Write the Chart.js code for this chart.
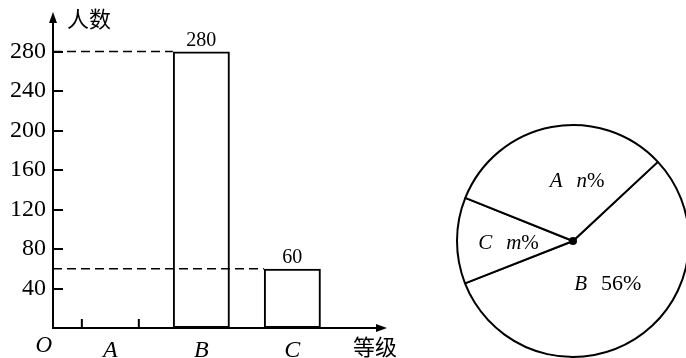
<!DOCTYPE html>
<html>
<head>
<meta charset="utf-8">
<script src="https://cdn.jsdelivr.net/npm/chart.js@4.4.1/dist/chart.umd.min.js"></script>
<style>
  html, body { margin: 0; padding: 0; background: #fff; overflow: hidden; width: 686px; height: 358px; }
  #bar { position: absolute; left: 0; top: 0; }
  #pie { position: absolute; left: 455px; top: 123px; }
</style>
</head>
<body>
<canvas id="bar" width="420" height="358"></canvas>
<canvas id="pie" width="236" height="236"></canvas>
<script>
// Bar chart data
const categories = ['A', 'B', 'C'];
const counts = [null, 280, 60];   // A is not drawn in the figure
const yTicks = [40, 80, 120, 160, 200, 240, 280];
const yTitle = '人数';
const xTitle = '等级';
const originLabel = 'O';

// Pie chart data (clockwise from the upper-right radius)
const pieLabels = ['B', 'C', 'A'];
const pieShares = [56, 12, 32];
const pieTexts = ['56%', 'm%', 'n%'];

const SERIF = '"Liberation Serif", "DejaVu Serif", serif';
const CJK = '"Noto Sans CJK SC", sans-serif';

// small nudges for pie text (radius fraction, angle shift in degrees)
const pieNudge = [{ dr: 0.52, da: -3 }, { dr: 0.56, da: -7 }, { dr: 0.47, da: 15 }];

function drawParts(ctx, parts, cx, by) {
  let total = 0;
  parts.forEach(p => { ctx.font = p.font; p.w = ctx.measureText(p.t).width + (p.gap || 0); total += p.w; });
  let x = cx - total / 2;
  ctx.textAlign = 'left';
  ctx.textBaseline = 'alphabetic';
  parts.forEach(p => { ctx.font = p.font; ctx.fillText(p.t, x, by); x += p.w; });
}

const barDecor = {
  id: 'barDecor',
  afterDraw(chart) {
    const { ctx, chartArea: a, scales: { x, y } } = chart;
    const bars = chart.getDatasetMeta(0).data;
    const w = bars[1].width;
    ctx.save();
    ctx.strokeStyle = '#000';
    ctx.fillStyle = '#000';
    ctx.lineWidth = 2;

    // axes
    ctx.beginPath();
    ctx.moveTo(a.left, a.top + 8);
    ctx.lineTo(a.left, a.bottom);
    ctx.lineTo(a.right - 8, a.bottom);
    ctx.stroke();
    ctx.beginPath();
    ctx.moveTo(a.left, a.top);
    ctx.lineTo(a.left - 4, a.top + 11);
    ctx.lineTo(a.left + 4, a.top + 11);
    ctx.closePath();
    ctx.fill();
    ctx.beginPath();
    ctx.moveTo(a.right, a.bottom);
    ctx.lineTo(a.right - 11, a.bottom - 4);
    ctx.lineTo(a.right - 11, a.bottom + 4);
    ctx.closePath();
    ctx.fill();

    // tick marks inside the y axis, and the edges of the missing bar
    ctx.beginPath();
    yTicks.forEach(v => {
      const py = Math.round(y.getPixelForValue(v));
      ctx.moveTo(a.left, py);
      ctx.lineTo(a.left + 10, py);
    });
    counts.forEach((v, i) => {
      if (v !== null) return;
      const cx = x.getPixelForValue(i + 1);
      [cx - w / 2, cx + w / 2].forEach(px => {
        ctx.moveTo(px, a.bottom);
        ctx.lineTo(px, a.bottom - 9);
      });
    });
    ctx.stroke();

    // dashed guides and value labels
    ctx.setLineDash([9, 5]);
    ctx.lineWidth = 1.6;
    counts.forEach((v, i) => {
      if (v === null) return;
      const b = bars[i];
      ctx.beginPath();
      ctx.moveTo(a.left, b.y);
      ctx.lineTo(b.x - w / 2, b.y);
      ctx.stroke();
    });
    ctx.setLineDash([]);
    ctx.font = '20px ' + SERIF;
    ctx.textAlign = 'center';
    ctx.textBaseline = 'alphabetic';
    counts.forEach((v, i) => {
      if (v === null) return;
      const b = bars[i];
      ctx.fillText(String(v), b.x, b.y - 6);
    });

    // origin and axis titles
    ctx.font = 'italic 23px ' + SERIF;
    ctx.textAlign = 'right';
    ctx.fillText(originLabel, a.left - 1, a.bottom + 24);
    ctx.font = '22px ' + CJK;
    ctx.textAlign = 'left';
    ctx.textBaseline = 'middle';
    ctx.fillText(yTitle, a.left + 14, a.top + 7);
    ctx.fillText(xTitle, a.right - 34, a.bottom + 19);
    ctx.restore();
  }
};

new Chart(document.getElementById('bar'), {
  type: 'bar',
  data: {
    datasets: [{
      data: counts.map((v, i) => ({ x: i + 1, y: v })),
      backgroundColor: 'rgba(255,255,255,0)',
      borderColor: '#000',
      borderWidth: 2,
      borderSkipped: false,
      barPercentage: 0.626,
      categoryPercentage: 1
    }]
  },
  options: {
    responsive: false,
    animation: false,
    events: [],
    layout: { padding: { top: 12, right: 33, bottom: 0, left: 0 } },
    plugins: { legend: { display: false }, tooltip: { enabled: false } },
    scales: {
      x: {
        type: 'linear',
        offset: false,
        min: 0.37,
        max: 4.04,
        afterFit: s => { s.height = 30; s.paddingLeft = 0; s.paddingRight = 0; },
        afterBuildTicks: s => { s.ticks = categories.map((c, i) => ({ value: i + 1 })); },
        grid: { display: false, drawTicks: false },
        border: { display: false },
        ticks: {
          color: '#000',
          padding: 8,
          maxRotation: 0,
          autoSkip: false,
          font: { family: SERIF, size: 24, style: 'italic' },
          callback: v => categories[v - 1]
        }
      },
      y: {
        min: 0,
        max: 320,
        afterFit: s => { s.width = 53; s.paddingTop = 0; s.paddingBottom = 0; },
        afterBuildTicks: s => { s.ticks = yTicks.map(v => ({ value: v })); },
        grid: { display: false, drawTicks: false },
        border: { display: false },
        ticks: {
          color: '#000',
          padding: 7,
          font: { family: SERIF, size: 24 }
        }
      }
    }
  },
  plugins: [barDecor]
});

const pieDecor = {
  id: 'pieDecor',
  afterDraw(chart) {
    const ctx = chart.ctx;
    const arcs = chart.getDatasetMeta(0).data;
    const { x: cx, y: cy, outerRadius: r } = arcs[0];
    ctx.save();
    ctx.fillStyle = '#000';
    ctx.beginPath();
    ctx.arc(cx, cy, 4, 0, Math.PI * 2);
    ctx.fill();
    arcs.forEach((arc, i) => {
      const mid = (arc.startAngle + arc.endAngle) / 2 + pieNudge[i].da * Math.PI / 180;
      const px = cx + Math.cos(mid) * r * pieNudge[i].dr;
      const py = cy + Math.sin(mid) * r * pieNudge[i].dr;
      const txt = pieTexts[i];
      const parts = [{ t: pieLabels[i], font: 'italic 21px ' + SERIF, gap: 14 }];
      if (/^[a-z]/.test(txt)) {
        parts.push({ t: txt[0], font: 'italic 21px ' + SERIF });
        parts.push({ t: txt.slice(1), font: '21px ' + SERIF });
      } else {
        parts.push({ t: txt, font: '22px ' + SERIF });
      }
      drawParts(ctx, parts, px, py);
    });
    ctx.restore();
  }
};

new Chart(document.getElementById('pie'), {
  type: 'pie',
  data: {
    labels: pieLabels,
    datasets: [{
      data: pieShares,
      backgroundColor: '#fff',
      borderColor: '#000',
      borderWidth: 2
    }]
  },
  options: {
    responsive: false,
    animation: false,
    events: [],
    rotation: 47,
    radius: 116,
    plugins: { legend: { display: false }, tooltip: { enabled: false } }
  },
  plugins: [pieDecor]
});
</script>
</body>
</html>
